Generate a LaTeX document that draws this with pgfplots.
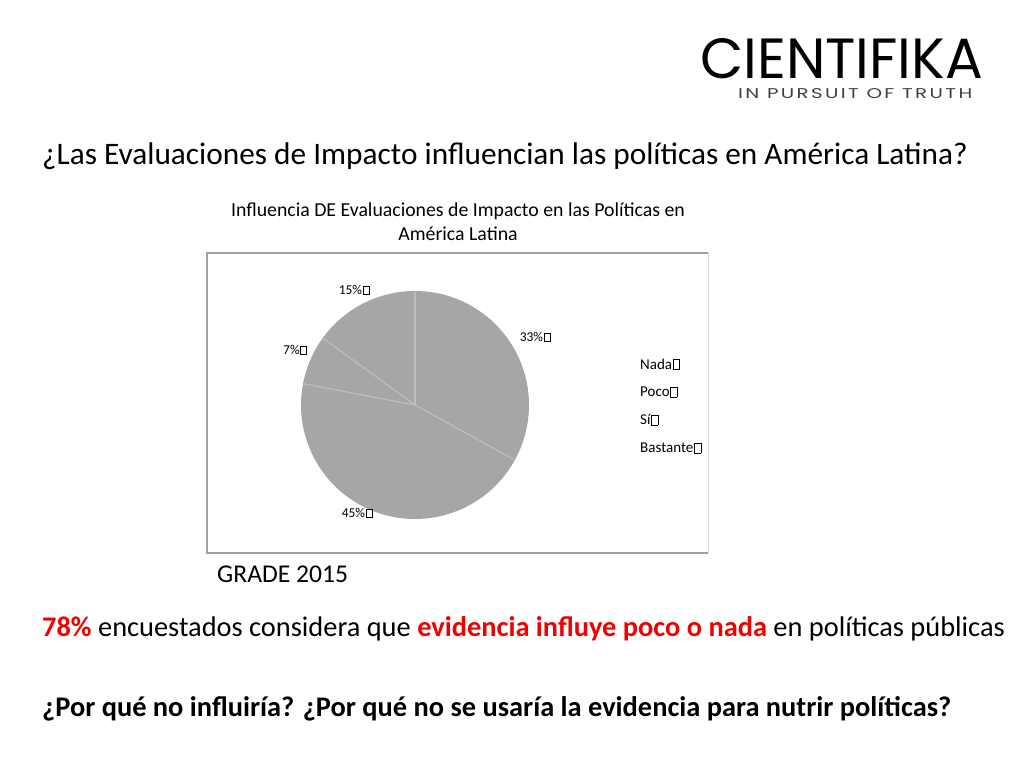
\documentclass[border=0pt]{standalone}
\usepackage{pgfplots}
\pgfplotsset{compat=1.18}
\usepackage{pgfplotstable}
\usepackage{fontspec}
\setmainfont{Carlito}
\newfontfamily\logofont{Poppins}
\newfontfamily\tagfont[LetterSpace=12]{Poppins}
\definecolor{piegray}{HTML}{A6A6A6}
\definecolor{sepgray}{HTML}{BDBDBD}
\definecolor{framegray}{HTML}{A0A0A0}
\definecolor{slred}{HTML}{F00000}
\newcommand\mg{\kern0.6pt{\setlength\fboxsep{0pt}\setlength\fboxrule{0.4pt}\fbox{\rule{0pt}{0.62em}\hspace{0.42em}}}}
\pgfplotstableread{
label value
Nada 33
Poco 45
Si 7
Bastante 15
}\piedata
\begin{document}
\begin{tikzpicture}[x=1pt,y=-1pt]
\fill[white] (0,0) rectangle (1024,768);
% logo
\node[anchor=north west,inner sep=0pt] at (700,38) {\resizebox{283pt}{40pt}{\logofont CIENTIFIKA}};
\node[anchor=north west,inner sep=0pt,text=black!75] at (738,88) {\resizebox{234pt}{10pt}{\tagfont IN PURSUIT OF TRUTH}};
% main question
\node[anchor=base west,inner sep=0pt] at (42,164) {\fontsize{31.3}{36}\selectfont ¿Las Evaluaciones de Impacto influencian las políticas en América Latina?};
% chart title
\node[anchor=base,inner sep=0pt] at (458,216) {\fontsize{19.8}{24}\selectfont Influencia DE Evaluaciones de Impacto en las Políticas en};
\node[anchor=base,inner sep=0pt] at (458,240) {\fontsize{19.8}{24}\selectfont América Latina};
% frame
\draw[framegray,line width=1.5pt] (708,253) -- (207,253) -- (207,553) -- (708,553);
\draw[black!15,line width=1pt] (708,253) -- (708,553);
% pie
\begin{axis}[at={(415pt,-405pt)},anchor=center,x=1pt,y=1pt,
  xmin=-120,xmax=120,ymin=-120,ymax=120,hide axis,clip=false]
\def\cum{90}
\pgfplotsforeachungrouped \i in {0,...,3}{%
  \pgfplotstablegetelem{\i}{value}\of\piedata
  \pgfmathsetmacro\start{\cum}%
  \pgfmathsetmacro\stop{\cum-3.6*\pgfplotsretval}%
  \edef\temp{\noexpand\fill[piegray] (axis cs:0,0) -- (axis cs:{114*cos(\start)},{114*sin(\start)}) arc[start angle=\start, end angle=\stop, radius=114pt] -- cycle;}%
  \temp
  \global\let\cum\stop
}
\def\cum{90}
\pgfplotsforeachungrouped \i in {0,...,3}{%
  \pgfplotstablegetelem{\i}{value}\of\piedata
  \pgfmathsetmacro\start{\cum}%
  \pgfmathsetmacro\stop{\cum-3.6*\pgfplotsretval}%
  \edef\temp{\noexpand\draw[sepgray,line width=1.2pt] (axis cs:0,0) -- (axis cs:{113*cos(\start)},{113*sin(\start)});}%
  \temp
  \global\let\cum\stop
}
\node[font=\fontsize{13.5}{16}\selectfont] at (axis cs:120,68) {33\%\mg};
\node[font=\fontsize{13.5}{16}\selectfont] at (axis cs:-58,-108) {45\%\mg};
\node[font=\fontsize{13.5}{16}\selectfont] at (axis cs:-120,55) {7\%\mg};
\node[font=\fontsize{13.5}{16}\selectfont] at (axis cs:-61,115) {15\%\mg};
\end{axis}
% legend
\node[anchor=west,inner sep=0pt,font=\fontsize{15}{18}\selectfont] at (640,364) {Nada\mg};
\node[anchor=west,inner sep=0pt,font=\fontsize{15}{18}\selectfont] at (640,392) {Poco\mg};
\node[anchor=west,inner sep=0pt,font=\fontsize{15}{18}\selectfont] at (640,420) {Sí\mg};
\node[anchor=west,inner sep=0pt,font=\fontsize{15}{18}\selectfont] at (640,448) {Bastante\mg};
% source
\node[anchor=base west,inner sep=0pt] at (217,582) {\fontsize{25.6}{30}\selectfont GRADE 2015};
% bottom texts
\node[anchor=base west,inner sep=0pt] at (42,636) {\fontsize{28.4}{34}\selectfont \textcolor{slred}{\textbf{78\%}} encuestados considera que \textcolor{slred}{\textbf{evidencia influye poco o nada}} en políticas públicas};
\node[anchor=base west,inner sep=0pt] at (42,716) {\fontsize{28.4}{34}\selectfont \textbf{¿Por qué no influiría? ¿Por qué no se usaría la evidencia para nutrir políticas?}};
\end{tikzpicture}
\end{document}
